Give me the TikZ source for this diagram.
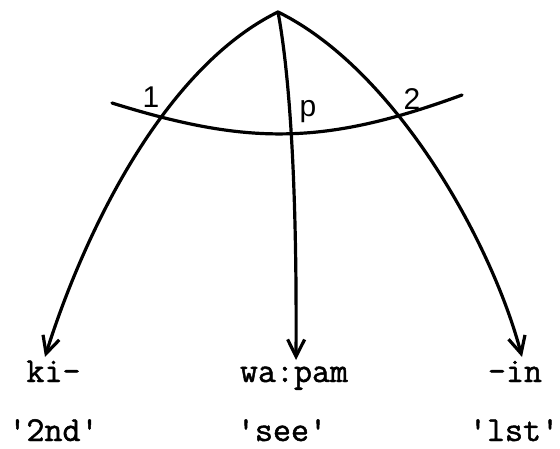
\documentclass[tikz,border=0pt]{standalone}
\usepackage{fontspec}
\setmonofont{Latin Modern Mono}[FakeBold=1.4]
\setsansfont{Liberation Sans}
\usetikzlibrary{arrows.meta}
\begin{document}
\begin{tikzpicture}[x=1pt,y=-1pt,
  stroke/.style={line width=3.2pt,line cap=round,line join=round},
  arr/.style={stroke,-{Straight Barb[length=17pt,width=17pt]}},
  word/.style={font=\ttfamily\fontsize{35}{35}\selectfont,anchor=base,inner sep=0pt},
  hand/.style={font=\sffamily\fontsize{30}{30}\selectfont,anchor=base,inner sep=0pt}]
\useasboundingbox (0,0) rectangle (560,449);
% apex and free ends
\coordinate (apex) at (278,12);
\coordinate (arcL) at (112,103);
\coordinate (arcR) at (462,95);
% words
\node[word] (ki) at (53.5,382) {ki-};
\node[word] (wa) at (294,382) {wa:pam};
\node[word] (in) at (515,382) {-in};
\node[word] (g1) at (53.5,441) {'2nd'};
\node[word] (g2) at (282,441) {'see'};
\node[word] (g3) at (514,441) {'lst'};
% tips of arrows
\coordinate (tL) at (45,357);
\coordinate (tM) at (296,360);
\coordinate (tR) at (522,357);
% curves
\draw[arr] (apex) .. controls (160,70) and (81,242) .. (tL);
\draw[arr] (apex) .. controls (396,70) and (492,243) .. (tR);
\draw[arr] (apex) .. controls (291,82) and (297,200) .. (tM);
\draw[stroke] (arcL) .. controls (247,145) and (323,146) .. (arcR);
% handwritten labels
\node[hand] (n1) at (151,108) {1};
\node[hand] (np) at (308,117) {p};
\node[hand] (n2) at (412,110) {2};
\end{tikzpicture}
\end{document}
